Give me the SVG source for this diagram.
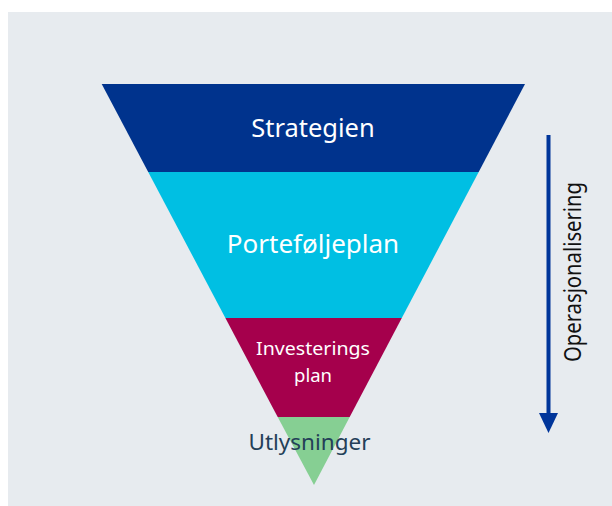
<svg xmlns="http://www.w3.org/2000/svg" width="612" height="506" viewBox="0 0 612 506">
<style>
.lbl{font-family:"Noto Sans","Open Sans","Liberation Sans",sans-serif;text-anchor:middle}
.w{fill:#ffffff}
</style>
<rect x="0" y="0" width="612" height="506" fill="#ffffff"/>
<rect x="8" y="12" width="604" height="494" fill="#E7EBEF"/>
<g id="strategien">
<polygon points="101.7,84 525,84 478.7,172 148.2,172" fill="#00338D"/>
<text class="lbl w" x="313" y="137" font-size="25.5">Strategien</text>
</g>
<g id="portefoljeplan">
<polygon points="148.2,172 478.7,172 401.8,318 225.4,318" fill="#00BFE3"/>
<text class="lbl w" x="313" y="253" font-size="26">Porteføljeplan</text>
</g>
<g id="investeringsplan">
<polygon points="225.4,318 401.8,318 349.7,417 277.7,417" fill="#A5004C"/>
<text class="lbl w" x="313" y="355" font-size="18.5" textLength="114" lengthAdjust="spacingAndGlyphs">Investerings</text>
<text class="lbl w" x="313" y="381.5" font-size="18.5">plan</text>
</g>
<g id="utlysninger">
<polygon points="277.7,417 349.7,417 314,485" fill="#86CF93"/>
<text class="lbl" x="309.5" y="450" font-size="22.5" fill="#243F58">Utlysninger</text>
</g>
<g id="connectors">
<line x1="548.5" y1="135" x2="548.5" y2="414" stroke="#00359A" stroke-width="4"/>
<polygon points="539,413 558,413 548.5,433" fill="#00359A"/>
</g>
<g id="operasjonalisering">
<text class="lbl" transform="translate(581,272) rotate(-90)" x="0" y="0" font-size="23" fill="#111111" textLength="180" lengthAdjust="spacingAndGlyphs">Operasjonalisering</text>
</g>
</svg>
